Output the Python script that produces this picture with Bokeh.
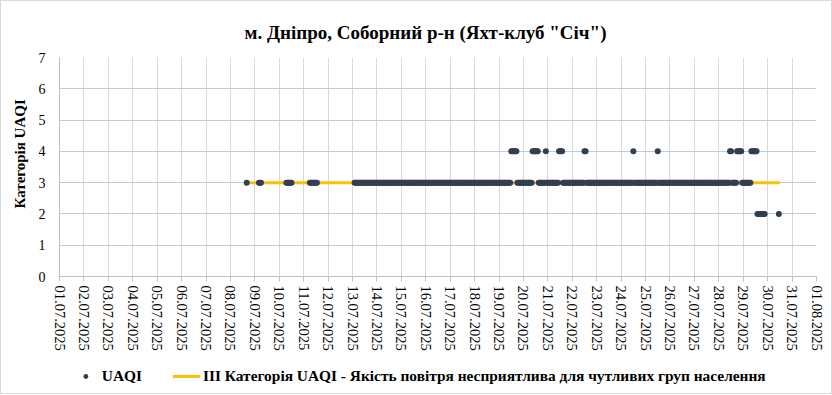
import pandas as pd
from bokeh.plotting import figure
from bokeh.layouts import column
from bokeh.models import (FixedTicker, DatetimeTickFormatter, Legend, LegendItem,
                          ColumnDataSource, Range1d)
from bokeh.embed import file_html
from bokeh.resources import INLINE

title_text = 'м. Дніпро, Соборний р-н (Яхт-клуб "Січ")'
y_label = "Категорія UAQI"
series_name = "UAQI"
line_name = "III Категорія UAQI - Якість повітря несприятлива для чутливих груп населення"

tick_labels = ["01.07.2025", "02.07.2025", "03.07.2025", "04.07.2025", "05.07.2025",
               "06.07.2025", "07.07.2025", "08.07.2025", "09.07.2025", "10.07.2025",
               "11.07.2025", "12.07.2025", "13.07.2025", "14.07.2025", "15.07.2025",
               "16.07.2025", "17.07.2025", "18.07.2025", "19.07.2025", "20.07.2025",
               "21.07.2025", "22.07.2025", "23.07.2025", "24.07.2025", "25.07.2025",
               "26.07.2025", "27.07.2025", "28.07.2025", "29.07.2025", "30.07.2025",
               "31.07.2025", "01.08.2025"]
y_ticks = [0, 1, 2, 3, 4, 5, 6, 7]

# hourly UAQI readings, stored as runs of equal category (start, end inclusive)
run_start = ["08.07.2025 16:00", "09.07.2025 04:00", "10.07.2025 07:00", "11.07.2025 06:00",
             "13.07.2025 02:00", "19.07.2025 12:00", "19.07.2025 18:00", "20.07.2025 09:00",
             "20.07.2025 15:00", "20.07.2025 22:00", "20.07.2025 23:00", "21.07.2025 11:00",
             "21.07.2025 15:00", "22.07.2025 12:00", "22.07.2025 14:00", "24.07.2025 12:00",
             "24.07.2025 13:00", "25.07.2025 12:00", "25.07.2025 13:00", "28.07.2025 11:00",
             "28.07.2025 13:00", "28.07.2025 18:00", "28.07.2025 23:00", "29.07.2025 08:00",
             "29.07.2025 14:00", "30.07.2025 11:00"]
run_end = ["08.07.2025 16:00", "09.07.2025 06:00", "10.07.2025 12:00", "11.07.2025 13:00",
           "19.07.2025 11:00", "19.07.2025 17:00", "20.07.2025 08:00", "20.07.2025 14:00",
           "20.07.2025 21:00", "20.07.2025 22:00", "21.07.2025 10:00", "21.07.2025 14:00",
           "22.07.2025 11:00", "22.07.2025 13:00", "24.07.2025 11:00", "24.07.2025 12:00",
           "25.07.2025 11:00", "25.07.2025 12:00", "28.07.2025 10:00", "28.07.2025 12:00",
           "28.07.2025 17:00", "28.07.2025 22:00", "29.07.2025 07:00", "29.07.2025 13:00",
           "29.07.2025 21:00", "30.07.2025 11:00"]
run_value = [3, 3, 3, 3,
             3, 4, 3, 4,
             3, 4, 3, 4,
             3, 4, 3, 4,
             3, 4, 3, 4,
             3, 4, 3, 4,
             2, 2]

level_start = "08.07.2025 16:00"
level_end = "30.07.2025 12:00"
level_value = 3

FMT = "%d.%m.%Y %H:%M"
DOT = "#333f50"
GOLD = "#ffc000"

times, vals = [], []
for s, e, v in zip(run_start, run_end, run_value):
    for t in pd.date_range(pd.to_datetime(s, format=FMT), pd.to_datetime(e, format=FMT), freq="h"):
        times.append(t)
        vals.append(v)
pts = ColumnDataSource(dict(t=times, v=vals))

lvl = ColumnDataSource(dict(t=[pd.to_datetime(level_start, format=FMT),
                               pd.to_datetime(level_end, format=FMT)],
                            v=[level_value, level_value]))

tick_ts = [pd.to_datetime(d, format="%d.%m.%Y") for d in tick_labels]
tick_ms = [t.value // 10**6 for t in tick_ts]

p = figure(width=830, height=355, x_axis_type="datetime", output_backend="svg",
           toolbar_location=None,
           x_range=Range1d(tick_ms[0], tick_ms[-1]), y_range=Range1d(0, 7),
           min_border_left=58, min_border_right=15, min_border_top=56, min_border_bottom=80)
p.outline_line_color = None
p.background_fill_color = "white"

p.title.text = title_text
p.title.align = "left"
p.title.offset = 185
p.title.standoff = 30
p.title.text_font = "Liberation Serif"
p.title.text_font_style = "bold"
p.title.text_font_size = "19px"
p.title.text_color = "black"

fmt = "%d.%m.%Y"
p.xaxis.ticker = FixedTicker(ticks=tick_ms)
p.xaxis.formatter = DatetimeTickFormatter(microseconds=fmt, milliseconds=fmt, seconds=fmt,
                                          minsec=fmt, minutes=fmt, hourmin=fmt, hours=fmt,
                                          days=fmt, months=fmt, years=fmt)
p.xaxis.major_label_orientation = "vertical"
p.xaxis.major_label_text_font = "Liberation Serif"
p.xaxis.major_label_text_font_size = "14.5px"
p.xaxis.major_label_text_color = "black"
p.xaxis.major_label_standoff = 4
p.xaxis.major_tick_out = 5
p.xaxis.major_tick_in = 0
p.xaxis.minor_tick_line_color = None
p.xaxis.axis_line_color = "#bfbfbf"
p.xaxis.major_tick_line_color = "#bfbfbf"

p.yaxis.ticker = FixedTicker(ticks=y_ticks)
p.yaxis.major_label_text_font = "Liberation Serif"
p.yaxis.major_label_text_font_size = "14px"
p.yaxis.major_label_text_color = "black"
p.yaxis.major_label_standoff = 14
p.yaxis.major_tick_out = 0
p.yaxis.major_tick_in = 0
p.yaxis.minor_tick_line_color = None
p.yaxis.axis_line_color = "#bfbfbf"
p.yaxis.axis_label = "\u00a0" * 7 + y_label
p.yaxis.axis_label_text_font = "Liberation Serif"
p.yaxis.axis_label_text_font_style = "bold"
p.yaxis.axis_label_text_font_size = "15px"
p.yaxis.axis_label_text_color = "black"
p.yaxis.axis_label_standoff = 8

p.xgrid.grid_line_color = "#d9d9d9"
p.ygrid.grid_line_color = "#bccbe3"

p.line("t", "v", source=lvl, line_color=GOLD, line_width=3)
p.scatter("t", "v", source=pts, size=6, fill_color=DOT, line_color=None)

# legend strip below the chart: same series, but its ranges keep the marks out of view
pl = figure(width=830, height=37, output_backend="svg", toolbar_location=None,
            x_range=Range1d(0, 1), y_range=Range1d(0, 1),
            min_border_left=0, min_border_right=0, min_border_top=0, min_border_bottom=0,
            x_axis_location=None, y_axis_location=None)
pl.grid.visible = False
pl.outline_line_color = None
k_pts = pl.scatter("t", "v", source=pts, size=6, fill_color=DOT, line_color=None)
k_line = pl.line("t", "v", source=lvl, line_color=GOLD, line_width=3)

legend = Legend(items=[LegendItem(label=series_name, renderers=[k_pts]),
                       LegendItem(label=line_name + "\u00a0" * 10, renderers=[k_line])],
                orientation="horizontal", location="bottom", margin=8,
                glyph_width=28, glyph_height=12, label_standoff=3, spacing=30,
                padding=0, border_line_color=None, background_fill_alpha=0,
                label_text_font="Liberation Serif", label_text_font_style="bold",
                label_text_font_size="15.4px", label_text_color="black")
pl.add_layout(legend)

layout = column(p, pl, spacing=0)
layout.styles = {"border": "1px solid #d9d9d9"}

open("out.html", "w").write(file_html(layout, INLINE))
